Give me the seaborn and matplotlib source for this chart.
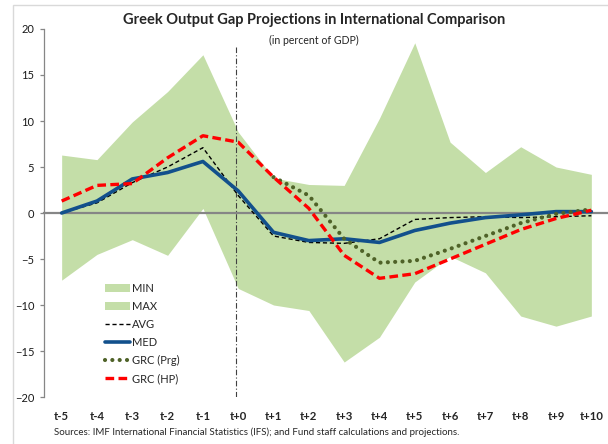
import numpy as np
import pandas as pd
import matplotlib
matplotlib.use("Agg")
import matplotlib.pyplot as plt
import seaborn as sns
from matplotlib.patches import Patch, Rectangle
from matplotlib.lines import Line2D

# ---------------- data ----------------
periods = ["t-5", "t-4", "t-3", "t-2", "t-1", "t+0", "t+1", "t+2",
           "t+3", "t+4", "t+5", "t+6", "t+7", "t+8", "t+9", "t+10"]
max_vals = [6.3, 5.8, 9.9, 13.2, 17.2, 8.8, 3.8, 3.1, 3.0, 10.3, 18.5, 7.7, 4.4, 7.2, 5.0, 4.2]
min_vals = [-7.3, -4.5, -2.9, -4.6, 0.5, -8.2, -10.0, -10.6, -16.2, -13.5, -7.5, -4.7, -6.5, -11.2, -12.3, -11.2]
avg_vals = [0.0, 1.1, 3.3, 5.0, 7.1, 1.9, -2.5, -3.2, -3.3, -2.8, -0.7, -0.5, -0.4, -0.5, -0.4, -0.3]
med_vals = [0.0, 1.3, 3.7, 4.4, 5.6, 2.4, -2.1, -3.0, -2.8, -3.2, -1.9, -1.1, -0.5, -0.2, 0.15, 0.15]
prg_vals = [np.nan] * 6 + [3.9, 1.9, -2.8, -5.4, -5.2, -3.9, -2.5, -1.1, -0.1, 0.4]
hp_vals = [1.3, 3.0, 3.2, 6.0, 8.4, 7.7, 3.9, 0.5, -4.6, -7.1, -6.6, -5.0, -3.4, -1.8, -0.6, 0.3]

df = pd.DataFrame({"pos": np.arange(len(periods)), "period": periods,
                   "MIN": min_vals, "MAX": max_vals, "AVG": avg_vals,
                   "MED": med_vals, "PRG": prg_vals, "HP": hp_vals})

# ---------------- style ----------------
sns.set_theme(style="white")
plt.rcParams["font.family"] = ["Lato", "DejaVu Sans"]

GREEN = "#c4dea8"
BLUE = "#12508c"
OLIVE = "#4f6228"
RED = "#ff0000"
GRAY = "#868686"

fig = plt.figure(figsize=(6.08, 4.44), dpi=100)
ax = fig.add_axes([44 / 608, 1 - 397 / 444, 565 / 608, 368 / 444])

# range band
ax.fill_between(df["pos"], df["MIN"], df["MAX"], color=GREEN, lw=0, zorder=1)

# series
sns.lineplot(data=df, x="pos", y="AVG", ax=ax, color="black", lw=1.0,
             linestyle=(0, (3, 2)), zorder=3)
sns.lineplot(data=df, x="pos", y="MED", ax=ax, color=BLUE, lw=2.6, zorder=4)
sns.lineplot(data=df, x="pos", y="PRG", ax=ax, color=OLIVE, lw=3.0,
             linestyle=(0, (0.01, 1.75)), dash_capstyle="round", zorder=5)
sns.lineplot(data=df, x="pos", y="HP", ax=ax, color=RED, lw=2.4,
             linestyle=(0, (2.6, 1.3)), zorder=6)

# t+0 marker line
ax.axvline(4.93, ymin=0, ymax=(18.1 + 20) / 40, color="#404040", lw=0.8,
           linestyle=(0, (5, 2, 1, 2)), zorder=2)

# ---------------- axes ----------------
ax.set_xlim(-0.5, 15.5)
ax.set_ylim(-20, 20)
ax.set_yticks(range(-20, 21, 5))
ax.set_xlabel("")
ax.set_ylabel("")
for s in ["top", "right"]:
    ax.spines[s].set_visible(False)
ax.spines["left"].set_color(GRAY)
ax.spines["left"].set_linewidth(0.9)
ax.spines["bottom"].set_position(("data", 0))
ax.spines["bottom"].set_color(GRAY)
ax.spines["bottom"].set_linewidth(1.6)
ax.spines["bottom"].set_zorder(2)

ax.set_xticks(np.arange(-0.5, 15.6, 1))
ax.tick_params(axis="x", direction="inout", length=7, width=1.5, color=GRAY,
               labelbottom=False)
ax.tick_params(axis="y", direction="out", length=3, width=0.9, color=GRAY,
               left=True, labelsize=8, pad=4, labelcolor="#1a1a1a")

sec = ax.secondary_xaxis("bottom")
sec.set_xticks(df["pos"], labels=periods)
sec.tick_params(length=0, pad=10, labelsize=8.2)
for lab in sec.get_xticklabels():
    lab.set_fontweight("bold")
sec.spines["bottom"].set_visible(False)

# ---------------- legend ----------------
handles = [
    Patch(facecolor=GREEN, edgecolor="none", label="MIN"),
    Patch(facecolor=GREEN, edgecolor="none", label="MAX"),
    Line2D([], [], color="black", lw=1.0, linestyle=(0, (3, 2)), label="AVG"),
    Line2D([], [], color=BLUE, lw=2.6, label="MED"),
    Line2D([], [], color=OLIVE, lw=3.0, linestyle=(0, (0.01, 1.75)),
           dash_capstyle="round", label="GRC (Prg)"),
    Line2D([], [], color=RED, lw=2.4, linestyle=(0, (2.6, 1.3)), label="GRC (HP)"),
]
ax.legend(handles=handles, loc="upper left", frameon=False, fontsize=8,
          bbox_to_anchor=(105 / 608, 1 - 283 / 444), bbox_transform=fig.transFigure,
          borderpad=0, borderaxespad=0, handlelength=2.25, handletextpad=0.2,
          labelspacing=0.63)

# ---------------- texts ----------------
fig.text(314 / 608, 1 - 20 / 444, "Greek Output Gap Projections in International Comparison",
         ha="center", va="center", fontsize=10.5, fontweight="bold")
fig.text(314 / 608, 1 - 40 / 444, "(in percent of GDP)", ha="center", va="center",
         fontsize=7.6)
fig.text(54 / 608, 1 - 432 / 444,
         "Sources: IMF International Financial Statistics (IFS); and Fund staff calculations and projections.",
         ha="left", va="center", fontsize=7.0)

# outer frame
fig.patches.append(Rectangle((12.7 / 608, -0.05), 1.0, 1 - 4.7 / 444 + 0.05,
                             transform=fig.transFigure, fill=False,
                             edgecolor="#d9d9d9", lw=1))

fig.savefig("out.png", dpi=100)
